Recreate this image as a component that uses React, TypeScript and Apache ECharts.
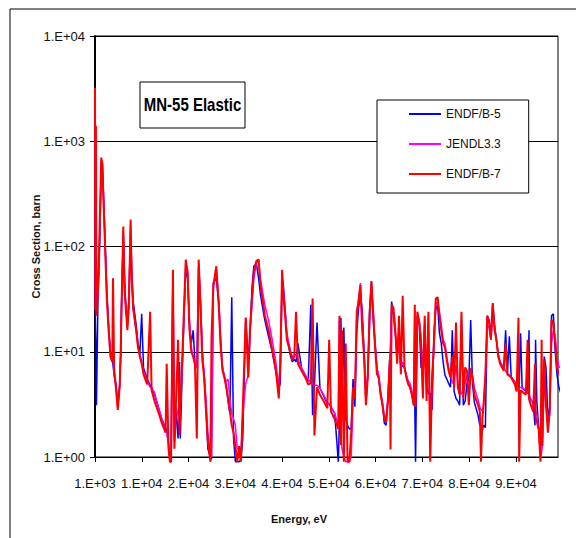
import React, { useEffect, useRef } from "react";
import * as echarts from "echarts";

// Energy grid (eV)
const energy = [
  1000, 1100, 1200, 1310, 1630, 1940, 2340, 2570, 3120, 3520, 3910, 4300, 4690, 4850, 5090, 5480, 5870, 6270, 6500,
  6660, 7050, 7290, 7600, 7920, 8230, 8620, 8860, 9170, 9800, 10200, 10590, 10980, 11380, 12160, 12790, 13100, 13730, 14520, 15300,
  16090, 16330, 16720, 17030, 17270, 17660, 17980, 18290, 18760, 19080, 19240, 19630, 20020, 20410, 20810, 21200, 21590, 21990, 22380, 22770,
  23170, 23560, 23950, 24340, 24740, 25130, 25680, 25920, 26310, 26940, 27490, 27880, 28270, 28670, 29060, 29450, 29850, 30240, 30630, 31020,
  31420, 31810, 32200, 32600, 33230, 33780, 34170, 34560, 34960, 35510, 35980, 36370, 36920, 37310, 38100, 38890, 39670, 40300, 40610, 41010,
  41240, 41640, 42030, 42820, 43210, 43600, 43990, 44390, 45170, 45960, 46590, 47140, 47530, 47920, 48470, 49100, 49890, 50680, 51070, 51460,
  52250, 53030, 53270, 53580, 53820, 54210, 54610, 55000, 55390, 55780, 56180, 56570, 56960, 57360, 57750, 58140, 58540, 58930, 59320, 59710,
  60110, 60500, 60890, 61290, 61680, 62070, 62470, 62860, 63250, 63640, 64040, 64190, 64430, 64820, 65220, 65610, 66000, 66400, 66790, 67180,
  67570, 67970, 68360, 68750, 69150, 69380, 69540, 69930, 70330, 70720, 71110, 71500, 71900, 72290, 72680, 73080, 73470, 73860, 74260, 74650,
  75040, 75430, 75830, 76220, 76610, 77010, 77400, 77790, 78190, 78580, 78970, 79360, 79760, 80150, 80540, 80940, 81330, 81720, 82120, 82900,
  83290, 83530, 83840, 84080, 84470, 84870, 85260, 85650, 86050, 86440, 86830, 87220, 87620, 88400, 88800, 89190, 89600, 89980, 90760, 91150,
  91550, 91700, 92000, 92330, 93120, 93500, 93800, 93910, 94690, 95080, 95200, 95480, 95870, 96260, 96500, 96660, 97050, 97440, 97840, 98230,
  98620, 99010, 99410, 99800, 100190, 100980,
];

// ENDF/B-7 (barn)
const endfB7 = [
  3200, 25, 1400, 22, 40, 120, 700, 600, 110, 32, 16, 9, 8, 50, 7, 4.5, 2.8, 4.6, 10,
  25, 155, 40, 26, 16, 26, 180, 47, 26, 16, 11, 9, 7.7, 6.1, 4.9, 24, 4.3, 3.4, 2.7, 2.1,
  1.7, 7.7, 1.2, 0.9, 0.9, 60, 1.2, 3, 13, 1.6, 2.9, 8, 25, 75, 55, 16, 10, 9, 7.5, 1.5,
  75, 26, 8.3, 5.7, 2.7, 1.4, 0.9, 14, 43, 65, 26, 11, 6.6, 5.7, 4.6, 3.6, 2.7, 2.0, 1.7, 1.27,
  0.9, 1.27, 0.9, 2.9, 21, 5.7, 17, 32, 58, 73, 75, 43, 30, 22, 16, 10.5, 6.6, 3.6, 7.7, 60,
  37, 22, 13, 9.7, 8.3, 9, 24, 7.7, 6.6, 5.7, 4.9, 5, 32, 1.6, 4.6, 3.9, 3.4, 2.9, 13, 2.7,
  2.3, 1.85, 22, 1.3, 16, 0.9, 12, 0.9, 0.9, 1.7, 4.6, 3.6, 24, 30, 43, 16, 9, 3.1, 5.7, 22,
  47, 22, 11, 6.1, 5.7, 3.9, 3.1, 2.3, 2.15, 3.4, 8.3, 1.18, 28, 26, 16, 7.7, 22, 6.1, 34, 7.1,
  5.7, 4.9, 4.6, 3.9, 3.1, 28, 3, 24, 19, 12, 3.6, 22, 3.4, 24, 0.9, 5.7, 12, 32, 33, 22,
  16, 12, 11, 8.3, 6.6, 5.7, 9, 4.6, 19, 4.6, 3.9, 24, 3.6, 7.1, 6.6, 3.1, 7, 5.7, 3.9, 3.1,
  2.7, 0.9, 2.3, 3.1, 6, 22, 19, 13, 29, 16, 13, 9, 7.7, 6.6, 12, 6.1, 5.9, 5.7, 4.9, 4.2,
  21, 0.9, 4.3, 4.2, 3.9, 13, 3.6, 3.4, 2.7, 7.7, 2.4, 2.15, 1.85, 0.9, 13, 1.27, 8.3, 3.1, 1.7, 2.7,
  20, 19, 12, 7.1, 6.1, 5.7,
];

// JENDL3.3 (barn)
const jendl33 = [
  3000, 25, 40, 30, 35, 100, 650, 640, 120, 35, 17, 9.5, 8, 9, 6, 4.6, 2.9, 4.8, 10,
  24, 140, 45, 28, 17, 30, 160, 50, 25, 16, 11, 9.5, 8, 6.5, 5.2, 4.6, 4.5, 4.1, 3.0, 2.3,
  1.8, 1.7, 1.3, 0.9, 0.9, 55, 1.5, 3, 2.5, 2, 3, 7, 22, 70, 60, 20, 11, 9, 8, 7,
  70, 30, 10, 6, 3.5, 1.7, 1.1, 1, 40, 60, 30, 13, 7, 6, 5.2, 5.5, 3.5, 2.6, 2.3, 2,
  1.2, 1.2, 1.0, 2.5, 5, 6, 15, 28, 50, 70, 75, 50, 35, 28, 20, 13, 8, 4.5, 8, 40,
  40, 25, 15, 10, 9, 9, 9.5, 8.5, 7, 6, 5.5, 5, 5, 4.8, 4.8, 4.5, 3.9, 3.3, 3.2, 3,
  2.6, 2, 20, 1.5, 1.2, 1.0, 0.9, 0.9, 0.9, 1.0, 3.5, 4, 20, 32, 45, 20, 10, 4, 6, 18,
  40, 25, 12, 7, 6, 4.2, 3.3, 2.5, 2.3, 3.8, 8, 8, 25, 24, 15, 9, 12, 7, 8, 7,
  6, 5.3, 5, 4.3, 3.5, 25, 3, 22, 20, 14, 4, 20, 4, 22, 1.2, 6, 10, 28, 30, 24,
  18, 13, 12, 9, 7, 6.5, 5, 5.5, 7.5, 5, 4.5, 4, 4, 5, 6, 4, 6, 6, 4.5, 3.5,
  3, 2.8, 2.8, 3.1, 5.5, 18, 17, 13, 22, 17, 13, 9.5, 8, 7, 6.5, 6.2, 6, 5.7, 5.2, 4.8,
  4.6, 4.5, 4.6, 4.6, 4.3, 4.1, 4, 3.8, 3.2, 2.9, 2.8, 2.5, 1.8, 1.0, 1.1, 1.3, 6, 3, 2.3, 2.5,
  12, 16, 14, 9, 7.2, 6.9,
];

// ENDF/B-5 (barn)
const endfB5 = [
  3100, 18, 12, 3.1, 30, 80, 500, 620, 130, 40, 18, 10, 8.5, 7.5, 6, 5, 3.2, 4.8, 9,
  26, 130, 60, 24, 20, 30, 140, 60, 30, 18, 12, 9.5, 23, 7, 5.5, 4.8, 4.6, 3.9, 3.0, 2.3,
  1.9, 1.8, 1.35, 0.95, 1.1, 58, 1.4, 2.8, 1.5, 8, 1.5, 6, 20, 60, 50, 18, 12, 16, 8, 7,
  65, 30, 10, 6, 3, 1.2, 1.0, 0.95, 45, 50, 28, 12, 7, 5.8, 4.8, 3.4, 2.6, 33, 1.5, 0.9,
  0.9, 0.9, 0.95, 1.5, 21, 8, 16, 40, 65, 68, 50, 35, 25, 20, 14, 10, 6.5, 4.5, 5, 50,
  45, 26, 14, 9, 8, 8.5, 8, 12, 7, 6, 5.2, 28, 2.5, 4.8, 19, 4.5, 3.8, 3.2, 3.2, 3,
  2.6, 0.9, 2.2, 21, 3, 17, 2.3, 2.0, 1.85, 1.85, 5.5, 3, 15, 26, 35, 25, 10, 3.2, 6, 25,
  46, 20, 12, 7, 5.5, 4, 3.2, 2.1, 2.0, 3.6, 9, 10, 30, 22, 15, 9, 14, 7, 7.5, 7,
  6, 5, 4.6, 4, 3.2, 3, 0.9, 22, 19, 7, 8, 19, 5, 4, 4, 2.8, 15, 25, 28, 15,
  12, 8, 6, 5.5, 5, 4.6, 16, 4.2, 3.6, 3.4, 3.1, 20, 3.1, 3.4, 5, 5.5, 20, 5, 3.3, 2.5,
  2.0, 2.0, 1.8, 2.0, 1.9, 22, 20, 14, 29, 18, 13, 9.5, 8, 7, 16, 6.3, 14, 5.8, 5.2, 4.8,
  4.7, 4.6, 15, 4.5, 4.2, 4, 16, 3.6, 3.3, 2.0, 13, 3.3, 1.9, 1.3, 1.4, 1.5, 9, 7, 2.3, 3,
  22, 23, 10, 6, 4.6, 3.6,
];

const xTickValues = [1000, 11000, 21000, 31000, 41000, 51000, 61000, 71000, 81000, 91000];
const yTickValues = [1, 10, 100, 1000, 10000];

const seriesNames = ["ENDF/B-5", "JENDL3.3", "ENDF/B-7"];
const seriesColors = ["#0000FF", "#FF00FF", "#FF0000"];
const seriesValues = [endfB5, jendl33, endfB7];
const seriesWidths = [1.5, 1.5, 2];

const FONT = "'Liberation Sans', Arial, sans-serif";

function sci(v: number): string {
  const e = Math.floor(Math.log10(v) + 1e-9);
  let m = Math.round(v / Math.pow(10, e));
  let ee = e;
  if (m >= 10) {
    m = 1;
    ee += 1;
  }
  return `${m}.E+${String(ee).padStart(2, "0")}`;
}

export default function App() {
  const ref = useRef<HTMLDivElement>(null);
  useEffect(() => {
    if (!ref.current) return;
    const chart = echarts.init(ref.current, null, { renderer: "svg" });
    chart.setOption({
      animation: false,
      backgroundColor: "#fff",
      grid: {
        left: 95,
        top: 36,
        width: 463,
        height: 421,
        show: true,
        borderColor: "#000",
        borderWidth: 1,
      },
      legend: {
        data: seriesNames.map((n) => ({ name: n, icon: "rect" })),
        orient: "vertical",
        left: 377,
        top: 100,
        padding: [8, 28, 13, 32],
        itemWidth: 32,
        itemHeight: 2,
        itemGap: 18,
        backgroundColor: "#fff",
        borderColor: "#000",
        borderWidth: 1,
        textStyle: { fontFamily: FONT, fontSize: 12, color: "#111", lineHeight: 12 },
      },
      xAxis: {
        type: "value",
        min: 1000,
        max: 100000,
        name: "Energy, eV",
        nameLocation: "middle",
        nameGap: 56,
        nameMoveOverlap: false,
        nameTextStyle: {
          fontFamily: FONT,
          fontSize: 11,
          fontWeight: "bold",
          color: "#111",
          padding: [0, 55, 0, 0],
        },
        axisLine: { lineStyle: { color: "#000", width: 1 } },
        axisTick: { show: true, length: 5, customValues: xTickValues, lineStyle: { color: "#000" } },
        axisLabel: {
          customValues: xTickValues,
          formatter: (v: number) => sci(v),
          fontFamily: FONT,
          fontSize: 13,
          color: "#111",
          margin: 20,
          hideOverlap: false,
          showMinLabel: true,
          showMaxLabel: true,
        },
        splitLine: { show: false },
      },
      yAxis: {
        type: "log",
        logBase: 10,
        min: 1,
        max: 10000,
        name: "Cross Section, barn",
        nameLocation: "middle",
        nameGap: 54,
        nameMoveOverlap: false,
        nameTextStyle: {
          fontFamily: FONT,
          fontSize: 11,
          fontWeight: "bold",
          color: "#111",
        },
        axisLine: { show: true, lineStyle: { color: "#000", width: 2 } },
        axisTick: { show: true, length: 5, customValues: yTickValues, lineStyle: { color: "#000" } },
        axisLabel: {
          customValues: yTickValues,
          formatter: (v: number) => sci(v),
          fontFamily: FONT,
          fontSize: 13,
          color: "#111",
          margin: 10,
        },
        splitLine: { show: true, lineStyle: { color: "#000", width: 1 } },
      },
      graphic: [
        {
          type: "rect",
          shape: { x: 10, y: 9, width: 700, height: 700 },
          style: { fill: "none", stroke: "#000", lineWidth: 1 },
          silent: true,
          z: -10,
        },
        {
          type: "rect",
          shape: { x: 140, y: 82, width: 105, height: 46 },
          style: { fill: "#fff", stroke: "#000", lineWidth: 1 },
          z: 10,
        },
        {
          type: "text",
          x: 192.5,
          y: 105,
          scaleY: 1.25,
          style: {
            text: "MN-55 Elastic",
            fontFamily: FONT,
            fontSize: 15,
            fontWeight: "bold",
            fill: "#000",
            textAlign: "center",
            textVerticalAlign: "middle",
          },
          z: 11,
        },
      ],
      series: seriesNames.map((name, i) => ({
        name,
        type: "line",
        symbol: "none",
        clip: false,
        color: seriesColors[i],
        lineStyle: { color: seriesColors[i], width: seriesWidths[i] },
        data: energy.map((e, j) => [e, seriesValues[i][j]]),
      })),
    });
    return () => chart.dispose();
  }, []);
  return (
    <div
      ref={ref}
      style={{ position: "absolute", left: 0, top: 0, width: 576, height: 538 }}
    />
  );
}
